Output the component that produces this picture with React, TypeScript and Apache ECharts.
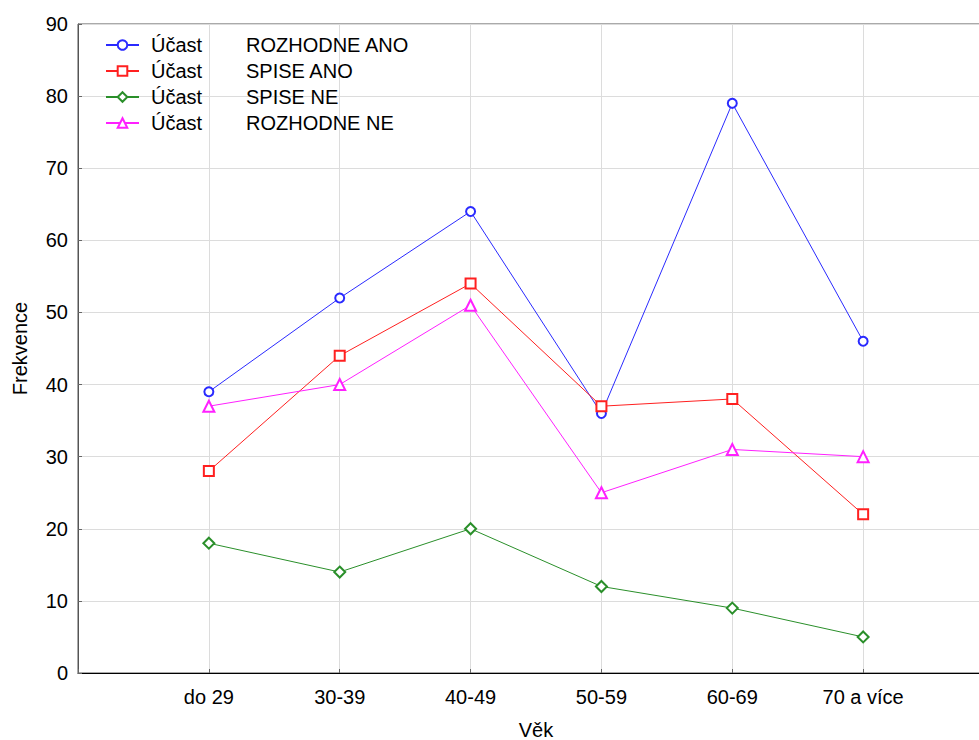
import React, { useEffect, useRef } from "react";
import * as echarts from "echarts";

const categories = ["do 29", "30-39", "40-49", "50-59", "60-69", "70 a více"];
const rozhodneAno = [39, 52, 64, 36, 79, 46];
const spiseAno = [28, 44, 54, 37, 38, 22];
const spiseNe = [18, 14, 20, 12, 9, 5];
const rozhodneNe = [37, 40, 51, 25, 31, 30];
const seriesNames = ["ROZHODNE ANO", "SPISE ANO", "SPISE NE", "ROZHODNE NE"];
const yTicks = { min: 0, max: 90, interval: 10 };

const FONT = "'Liberation Sans', Arial, sans-serif";

export default function App() {
  const ref = useRef<HTMLDivElement>(null);
  useEffect(() => {
    if (!ref.current) return;
    const chart = echarts.init(ref.current, null, { renderer: "svg" });
    // padded category axis: one empty slot each side
    const xCats = ["", ...categories, ""];
    const pad = (arr: number[]) => [null, ...arr, null];
    const mk = (name: string, data: number[], color: string, symbol: string, size: number) => ({
      name,
      type: "line",
      data: pad(data),
      color,
      symbol,
      symbolSize: size,
      showSymbol: true,
      lineStyle: { width: 1, color },
      itemStyle: { color, borderColor: color, borderWidth: 1 },
      emphasis: { disabled: true },
    });
    chart.setOption({
      animation: false,
      backgroundColor: "#ffffff",
      textStyle: { fontFamily: FONT },
      grid: {
        left: 78,
        top: 24,
        width: 916,
        height: 649,
        containLabel: false,
        outerBoundsMode: "none",
        show: true,
        borderColor: "#555555",
        borderWidth: 1,
        backgroundColor: "transparent",
      },
      legend: {
        orient: "vertical",
        left: 100,
        top: 30,
        itemWidth: 33,
        itemHeight: 12,
        itemGap: 6,
        data: seriesNames,
        formatter: (n: string) => `{s|}{a|Účast}{b|${n}}`,
        textStyle: {
          fontFamily: FONT,
          fontSize: 20,
          color: "#000",
          lineHeight: 20,
          rich: {
            s: { width: 7 },
            a: { width: 95, fontSize: 20, fontFamily: FONT, color: "#000" },
            b: { fontSize: 20, fontFamily: FONT, color: "#000" },
          },
        },
      },
      xAxis: {
        type: "category",
        data: xCats,
        boundaryGap: false,
        name: "Věk",
        nameLocation: "middle",
        nameGap: 47,
        nameTextStyle: { fontFamily: FONT, fontSize: 20, color: "#000" },
        axisLine: { lineStyle: { color: "#000", width: 1 } },
        axisTick: { show: true, inside: true, length: 4, interval: 0, lineStyle: { color: "#666" } },
        axisLabel: { interval: 0, margin: 14, fontSize: 20, fontFamily: FONT, color: "#000" },
        splitLine: { show: true, interval: 0, lineStyle: { color: "#dcdcdc", width: 1 } },
      },
      yAxis: {
        type: "value",
        min: yTicks.min,
        max: yTicks.max,
        interval: yTicks.interval,
        name: "Frekvence",
        nameLocation: "middle",
        nameGap: 48,
        nameTextStyle: { fontFamily: FONT, fontSize: 20, color: "#000" },
        axisLine: { show: true, lineStyle: { color: "#555", width: 1 } },
        axisTick: { show: true, inside: true, length: 4, lineStyle: { color: "#666" } },
        axisLabel: { margin: 10, fontSize: 20, fontFamily: FONT, color: "#000" },
        splitLine: { show: true, lineStyle: { color: "#dcdcdc", width: 1 } },
      },
      series: [
        mk(seriesNames[0], rozhodneAno, "#2a2aff", "emptyCircle", 9),
        mk(seriesNames[1], spiseAno, "#ff2020", "emptyRect", 10),
        mk(seriesNames[2], spiseNe, "#2a8f2a", "emptyDiamond", 11),
        mk(seriesNames[3], rozhodneNe, "#ff20ff", "emptyTriangle", 11),
      ],
    });
    return () => chart.dispose();
  }, []);
  return (
    <div
      ref={ref}
      style={{ position: "fixed", left: 0, top: 0, width: 979, height: 740, background: "#fff" }}
    />
  );
}
